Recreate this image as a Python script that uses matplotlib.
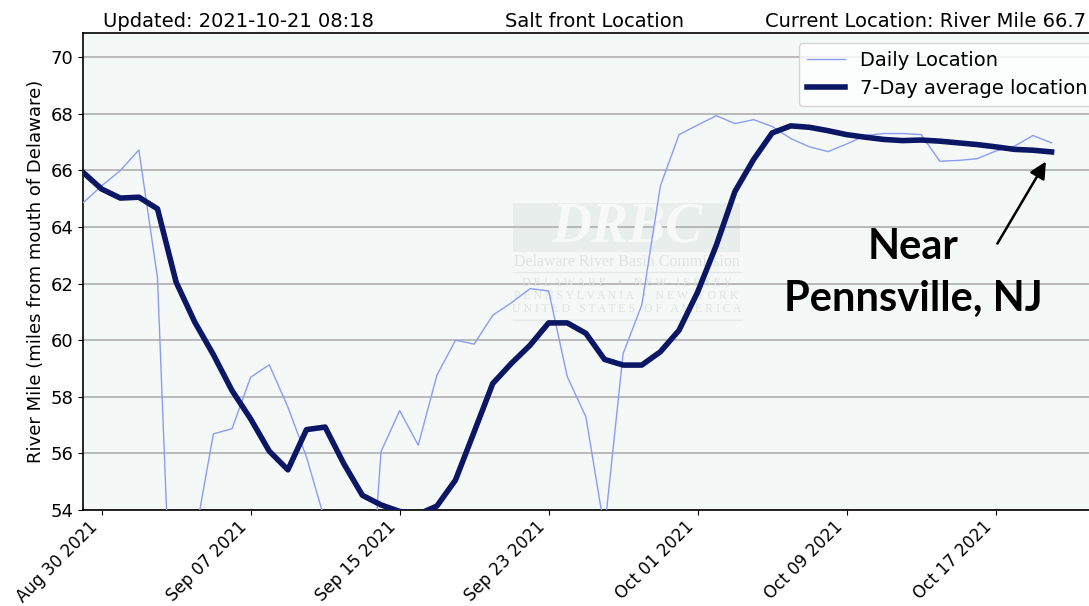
import numpy as np
import pandas as pd
import matplotlib
matplotlib.use("Agg")
import matplotlib.pyplot as plt
import matplotlib.dates as mdates
from matplotlib.patches import Rectangle

# salt front readings, one per day, Aug 29 - Oct 20 2021
dates = pd.date_range("2021-08-29", "2021-10-20", freq="D")

daily = [64.85, 65.45, 65.99, 66.72, 62.2, 45.3, 53.0, 56.69, 56.87, 58.69,
         59.13, 57.64, 55.87, 53.6, 45.0, 46.5, 56.06, 57.51, 56.29, 58.76,
         60.0, 59.86, 60.88, 61.32, 61.82, 61.74, 58.71, 57.29, 53.3, 59.53,
         61.24, 65.45, 67.26, 67.6, 67.93, 67.65, 67.79, 67.55, 67.12, 66.83,
         66.66, 66.93, 67.23, 67.3, 67.3, 67.26, 66.32, 66.35, 66.41, 66.68,
         66.85, 67.23, 66.97]

avg7 = [65.93, 65.34, 65.02, 65.05, 64.64, 62.05, 60.64, 59.49, 58.22, 57.22,
        56.08, 55.42, 56.84, 56.93, 55.64, 54.52, 54.18, 53.95, 53.85, 54.14,
        55.06, 56.76, 58.47, 59.18, 59.82, 60.61, 60.61, 60.24, 59.32, 59.12,
        59.12, 59.59, 60.35, 61.7, 63.35, 65.25, 66.38, 67.32, 67.57, 67.52,
        67.40, 67.26, 67.17, 67.09, 67.05, 67.07, 67.03, 66.97, 66.91, 66.83,
        66.74, 66.71, 66.65]

yticks = list(range(54, 71, 2))
tick_dates = pd.date_range("2021-08-30", "2021-10-20", freq="8D")
updated = "Updated: 2021-10-21 08:18"
current = "Current Location: River Mile 66.7"

fig = plt.figure(figsize=(10.89, 6.06), dpi=100)
ax = fig.add_axes([0.0762, 0.1584, 0.9385, 0.7871])
ax.set_facecolor("#f4f8f7")

# faint DRBC logo in the background
ax.add_patch(Rectangle((0.4207, 0.5409), 0.2221, 0.1027, transform=ax.transAxes,
                       facecolor="#e7eeeb", edgecolor="none", zorder=0.5))
ax.text(0.5318, 0.592, "DRBC", transform=ax.transAxes, ha="center", va="center",
        fontsize=40, family="Liberation Serif", style="italic", weight="bold",
        color="#f6f9f8", zorder=0.6)
ax.text(0.5318, 0.519, "Delaware River Basin Commission", transform=ax.transAxes,
        ha="center", va="center", fontsize=11.5, family="Liberation Serif",
        color="#dce4e1", zorder=0.6)
for yy in (0.499, 0.3983):
    ax.plot([0.4207, 0.6429], [yy, yy], transform=ax.transAxes, color="#e2e9e6",
            lw=1, zorder=0.6)
wm_lines = ["D E L A W A R E    \u2022    N E W   J E R S E Y",
            "P E N N S Y L V A N I A   \u2022   N E W   Y O R K",
            "U N I T E D   S T A T E S   O F   A M E R I C A"]
for yy, s in zip((0.4769, 0.4486, 0.4214), wm_lines):
    ax.text(0.5318, yy, s, transform=ax.transAxes, ha="center", va="center",
            fontsize=8.5, family="Liberation Serif", color="#dce4e1", zorder=0.6)

ax.plot(dates, daily, color="#8b9cf7", lw=1.0, label="Daily Location", zorder=3)
ax.plot(dates, avg7, color="#0b1665", lw=4, label="7-Day average location", zorder=4)

ax.set_ylim(54, 70.85)
ax.set_yticks(yticks)
x0 = mdates.date2num(pd.Timestamp("2021-08-29"))
ax.set_xlim(x0, x0 + 54.87)
ax.set_xticks(mdates.date2num(tick_dates))
ax.xaxis.set_major_formatter(mdates.DateFormatter("%b %d %Y"))
plt.setp(ax.get_xticklabels(), rotation=45, ha="right")
ax.tick_params(axis="y", labelsize=13)
ax.tick_params(axis="x", labelsize=12, pad=2)
ax.grid(axis="y", color="#b4b4b4", lw=1.3)
ax.set_axisbelow(True)
for s in ax.spines.values():
    s.set_linewidth(1.2)
ax.set_ylabel("River Mile (miles from mouth of Delaware)", fontsize=13)

ax.legend(loc="upper right", fontsize=14, handlelength=2.0, handletextpad=0.75)

# arrow to the latest 7-day point
ax.annotate("", xy=(dates[-1], avg7[-1]), xytext=(-39, -66),
            textcoords="offset points",
            arrowprops=dict(arrowstyle="-|>,head_length=0.5,head_width=0.25",
                            mutation_scale=20, lw=1.8, color="black",
                            shrinkA=0, shrinkB=8))
ax.text(0.812, 0.497, "Near\nPennsville, NJ", transform=ax.transAxes,
        ha="center", va="center", fontsize=30, family="Lato", weight="bold",
        linespacing=1.45, zorder=6)

fig.text(0.0946, 0.956, updated, fontsize=14, va="baseline")
fig.text(0.5455, 0.956, "Salt front Location", fontsize=14, ha="center", va="baseline")
fig.text(0.7025, 0.956, current, fontsize=14, va="baseline")

fig.savefig("out.png", dpi=100)
